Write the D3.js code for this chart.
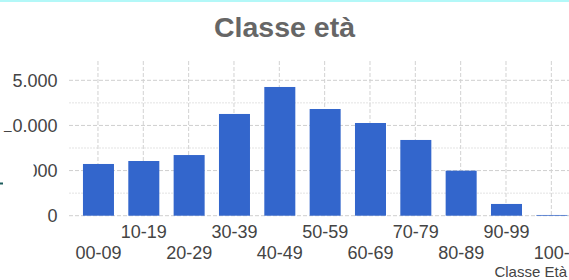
<!DOCTYPE html>
<html><head><meta charset="utf-8">
<script src="https://cdn.jsdelivr.net/npm/d3@7"></script>
<style>body{margin:0;background:#fff}svg{display:block}</style>
</head><body>
<script>
const categories = ["00-09","10-19","20-29","30-39","40-49","50-59","60-69","70-79","80-89","90-99","100-"];
const values = [5730,6060,6720,11270,14260,11820,10270,8390,4990,1300,80];
const yTicks = [0,5000,10000,15000];
const yMinorTicks = [2500,7500,12500];
const chartTitle = "Classe età";
const xAxisTitle = "Classe Età";

const W = 569, H = 280;
const font = "'Liberation Sans', Arial, sans-serif";
const svg = d3.select("body").append("svg").attr("width", W).attr("height", H);

const x = d3.scaleBand().domain(categories).range([75.8, 574.5]).paddingInner(0.316).paddingOuter(0.158);
const y = d3.scaleLinear().domain([0, 15000]).range([215.7, 80.3]);
const it = d3.formatLocale({decimal: ",", thousands: ".", grouping: [3], currency: ["€", ""]});
const fmt = it.format(",d");

// top border
svg.append("rect").attr("x", 0).attr("y", 0).attr("width", W).attr("height", 2).attr("fill", "#b3f8f8");

// title
svg.append("text").attr("x", W / 2).attr("y", 37).attr("text-anchor", "middle")
  .attr("font-family", font).attr("font-weight", "bold").attr("font-size", 28.5).attr("fill", "#666")
  .text(chartTitle);

// minor gridlines
svg.append("g").selectAll("line").data(yMinorTicks).join("line")
  .attr("x1", 69).attr("x2", W).attr("y1", d => y(d)).attr("y2", d => y(d))
  .attr("stroke", "#e3e3e3").attr("stroke-width", 1).attr("stroke-dasharray", "2,1");

// major gridlines
svg.append("g").selectAll("line").data(yTicks).join("line")
  .attr("x1", 69).attr("x2", W).attr("y1", d => y(d)).attr("y2", d => y(d))
  .attr("stroke", "#cfcfcf").attr("stroke-width", 1).attr("stroke-dasharray", "4,2");

// vertical gridlines
svg.append("g").selectAll("line").data(categories).join("line")
  .attr("x1", d => x(d) + x.bandwidth() / 2 - 0.5).attr("x2", d => x(d) + x.bandwidth() / 2 - 0.5)
  .attr("y1", 61).attr("y2", y(0))
  .attr("stroke", "#d2d2d2").attr("stroke-width", 1).attr("stroke-dasharray", "4,2");

// bars
svg.append("g").selectAll("rect").data(values).join("rect")
  .attr("x", (d, i) => x(categories[i]))
  .attr("width", x.bandwidth())
  .attr("y", d => y(d))
  .attr("height", d => y(0) - y(d))
  .attr("fill", "#3366cc");

// y axis labels
const yAxis = d3.axisLeft(y).tickValues(yTicks).tickFormat(fmt).tickSize(0).tickPadding(0);
const gy = svg.append("g").attr("transform", "translate(57.5,0)").call(yAxis);
gy.select(".domain").remove();
gy.selectAll("text").attr("font-family", font).attr("font-size", 18).attr("fill", "#444").attr("dy", "0.34em");

// x axis labels (staggered)
const xAxis = d3.axisBottom(x).tickSize(0).tickPadding(0);
const gx = svg.append("g").attr("transform", "translate(0,0)").call(xAxis);
gx.select(".domain").remove();
gx.selectAll(".tick text")
  .attr("font-family", font).attr("font-size", 18).attr("fill", "#444")
  .attr("y", (d, i) => i % 2 === 1 ? 238 : 259.3).attr("dy", 0);

// x axis title
svg.append("text").attr("x", 567).attr("y", 276.8).attr("text-anchor", "end")
  .attr("font-family", font).attr("font-size", 15).attr("fill", "#444").text(xAxisTitle);

// overlapping covers at the left edge, as in the reference
svg.append("rect").attr("x", 0).attr("y", 60).attr("width", 12.3).attr("height", 71).attr("fill", "#fff");
svg.append("rect").attr("x", 0).attr("y", 158).attr("width", 33.5).attr("height", 22).attr("fill", "#fff");
svg.append("rect").attr("x", 0).attr("y", 182.5).attr("width", 3).attr("height", 2).attr("fill", "#1d5c5c");
</script>
</body></html>
